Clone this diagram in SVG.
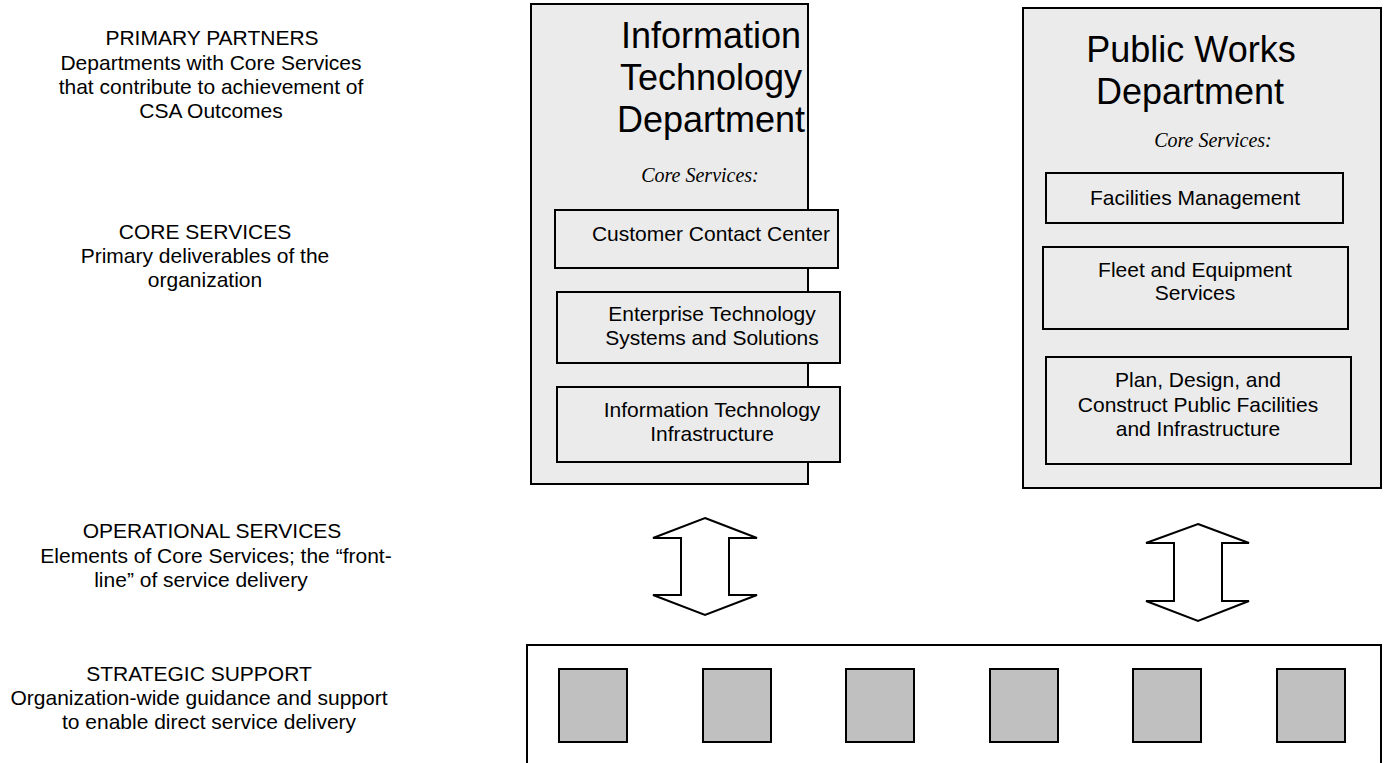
<svg xmlns="http://www.w3.org/2000/svg" width="1387" height="763" viewBox="0 0 1387 763">
<style>
.t{font-family:"Liberation Sans",Arial,sans-serif;font-size:21px;fill:#000;text-anchor:middle}
.title{font-family:"Liberation Sans",Arial,sans-serif;font-size:36px;fill:#000;text-anchor:middle}
.core{font-family:"Liberation Serif","Times New Roman",serif;font-style:italic;font-size:20px;fill:#000;text-anchor:middle}
.dept{fill:#ebebeb;stroke:#000;stroke-width:2}
.svc{fill:#ebebeb;stroke:#000;stroke-width:2}
.sq{fill:#c0c0c0;stroke:#000;stroke-width:2}
.arrow{fill:#fff;stroke:#000;stroke-width:2;stroke-linejoin:miter}
</style>
<rect width="1387" height="763" fill="#fff"/>
<g id="legend">
<text class="t" x="212" y="45">PRIMARY PARTNERS</text>
<text class="t" x="211" y="70">Departments with Core Services</text>
<text class="t" x="211" y="94">that contribute to achievement of</text>
<text class="t" x="211" y="118">CSA Outcomes</text>
<text class="t" x="205" y="239">CORE SERVICES</text>
<text class="t" x="205" y="263">Primary deliverables of the</text>
<text class="t" x="205" y="287">organization</text>
<text class="t" x="212" y="538">OPERATIONAL SERVICES</text>
<text class="t" x="216" y="563">Elements of Core Services; the “front-</text>
<text class="t" x="201" y="587">line” of service delivery</text>
<text class="t" x="199" y="681">STRATEGIC SUPPORT</text>
<text class="t" x="199" y="705">Organization-wide guidance and support</text>
<text class="t" x="209" y="729">to enable direct service delivery</text>
</g>
<g id="it-dept">
<rect class="dept" x="531" y="4" width="277" height="480"/>
<text class="title" x="711" y="48">Information</text>
<text class="title" x="711" y="90">Technology</text>
<text class="title" x="711" y="132">Department</text>
<text class="core" x="700" y="182">Core Services:</text>
</g>
<g id="it-svc1">
<rect class="svc" x="555" y="210" width="283" height="58"/>
<text class="t" x="711" y="241">Customer Contact Center</text>
</g>
<g id="it-svc2">
<rect class="svc" x="557" y="292" width="283" height="71"/>
<text class="t" x="712" y="321">Enterprise Technology</text>
<text class="t" x="712" y="345">Systems and Solutions</text>
</g>
<g id="it-svc3">
<rect class="svc" x="557" y="387" width="283" height="75"/>
<text class="t" x="712" y="417">Information Technology</text>
<text class="t" x="712" y="441">Infrastructure</text>
</g>
<g id="pw-dept">
<rect class="dept" x="1023" y="8" width="358" height="480"/>
<text class="title" x="1191" y="62">Public Works</text>
<text class="title" x="1190" y="104">Department</text>
<text class="core" x="1213" y="147">Core Services:</text>
</g>
<g id="pw-svc1">
<rect class="svc" x="1046" y="173" width="297" height="50"/>
<text class="t" x="1195" y="205">Facilities Management</text>
</g>
<g id="pw-svc2">
<rect class="svc" x="1043" y="247" width="305" height="82"/>
<text class="t" x="1195" y="277">Fleet and Equipment</text>
<text class="t" x="1195" y="300">Services</text>
</g>
<g id="pw-svc3">
<rect class="svc" x="1046" y="357" width="305" height="107"/>
<text class="t" x="1198" y="387">Plan, Design, and</text>
<text class="t" x="1198" y="412">Construct Public Facilities</text>
<text class="t" x="1198" y="436">and Infrastructure</text>
</g>
<g id="strategic-support">
<rect x="527" y="645" width="854" height="130" fill="#fff" stroke="#000" stroke-width="2"/>
<rect class="sq" x="559" y="669" width="68" height="73"/>
<rect class="sq" x="703" y="669" width="68" height="73"/>
<rect class="sq" x="846" y="669" width="68" height="73"/>
<rect class="sq" x="990" y="669" width="68" height="73"/>
<rect class="sq" x="1133" y="669" width="68" height="73"/>
<rect class="sq" x="1277" y="669" width="68" height="73"/>
</g>
<g id="connectors">
<polygon class="arrow" points="705,518 757,538 729,538 729,595 757,595 705,615 653,595 681,595 681,538 653,538"/>
<polygon class="arrow" points="1198,524 1249,543 1222,543 1222,601 1249,601 1198,621 1146,601 1174,601 1174,543 1146,543"/>
</g>
</svg>
